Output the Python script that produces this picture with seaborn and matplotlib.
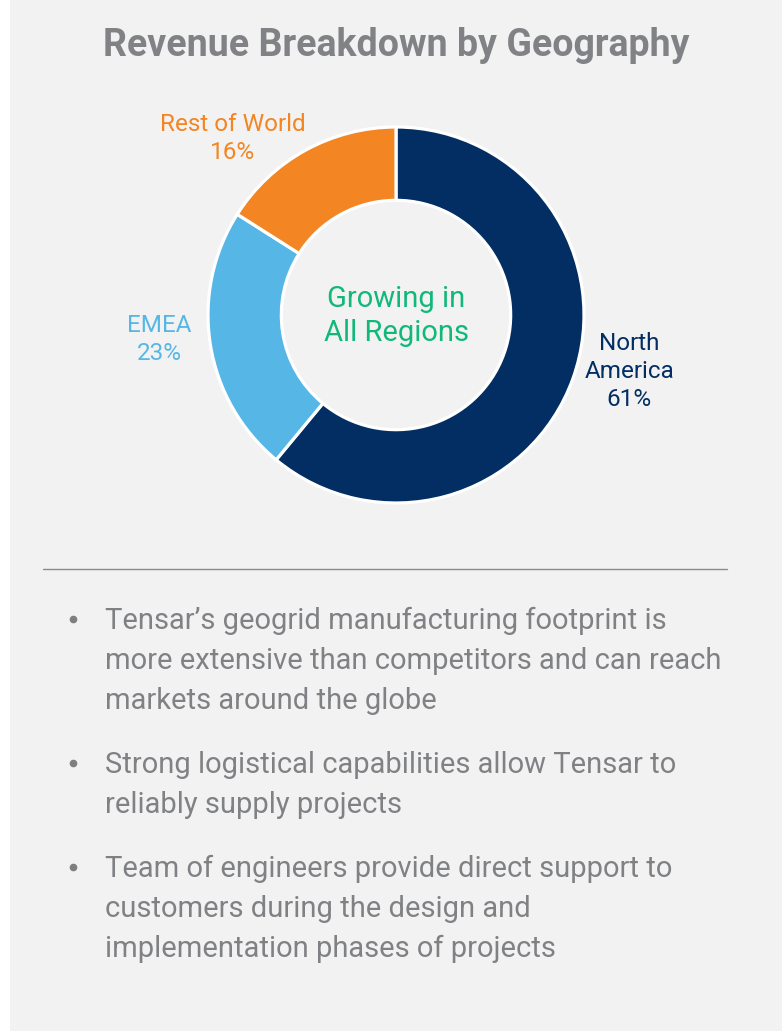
import matplotlib
matplotlib.use("Agg")
import matplotlib.pyplot as plt
import matplotlib.patches as mpatches
import seaborn as sns

regions = ["North America", "EMEA", "Rest of World"]
shares = [61, 23, 16]
label_lines = ["North\nAmerica\n61%", "EMEA\n23%", "Rest of World\n16%"]
colors = ["#022e63", "#56b7e6", "#f38523"]

title = "Revenue Breakdown by Geography"
center_text = "Growing in\nAll Regions"
bullets = [
    "Tensar\u2019s geogrid manufacturing footprint is\nmore extensive than competitors and can reach\nmarkets around the globe",
    "Strong logistical capabilities allow Tensar to\nreliably supply projects",
    "Team of engineers provide direct support to\ncustomers during the design and\nimplementation phases of projects",
]

sns.set_theme(style="white")
plt.rcParams["font.family"] = ["Roboto", "DejaVu Sans"]

W, H = 782, 1031
fig = plt.figure(figsize=(W / 100, H / 100), dpi=100)
fig.patch.set_facecolor("white")
fig.patches.append(mpatches.Rectangle((10 / W, 0), 1, 1, transform=fig.transFigure,
                                      facecolor="#f2f2f2", edgecolor="none", zorder=-5))

# donut, radius 1 = 188 px, centred at (396, 315)
R = 188
cx, cy = 396, 315
ax = fig.add_axes([(cx - 1.5 * R) / W, (H - cy - 1.5 * R) / H, 3 * R / W, 3 * R / H])
ax.set_zorder(2)
ax.patch.set_alpha(0)
ax.pie(shares, colors=colors, startangle=90, counterclock=False, radius=1,
       wedgeprops=dict(width=0.39, edgecolor="white", linewidth=2.3))
ax.set_xlim(-1.5, 1.5)
ax.set_ylim(-1.5, 1.5)
ax.axis("off")

label_pos = [(1.24, -0.30), (-1.26, -0.13), (-0.87, 0.94)]
for txt, (lx, ly), c in zip(label_lines, label_pos, colors):
    ax.text(lx, ly, txt, ha="center", va="center", color=c, fontsize=17.5,
            linespacing=1.27)
ax.text(0, -0.005, center_text, ha="center", va="center", color="#12b87a",
        fontsize=21, linespacing=1.3)

fig.text(cx / W, 1 - 45 / H, title, ha="center", va="center", color="#818285",
         fontsize=27, fontweight="bold")

fig.add_artist(plt.Line2D([43 / W, 727 / W], [1 - 569 / H] * 2, color="#8a8a8a",
                          linewidth=1.0))

tops = [619, 763, 867]
for y, b in zip(tops, bullets):
    fig.add_artist(plt.Line2D([73 / W], [1 - y / H], marker="o", markersize=4.5,
                              color="#7f7f7f", linestyle="none"))
    fig.text(105 / W, 1 - (y - 12) / H, b, ha="left", va="top", color="#808184",
             fontsize=21, linespacing=1.53)

fig.savefig("out.png", dpi=100, facecolor=fig.get_facecolor())
